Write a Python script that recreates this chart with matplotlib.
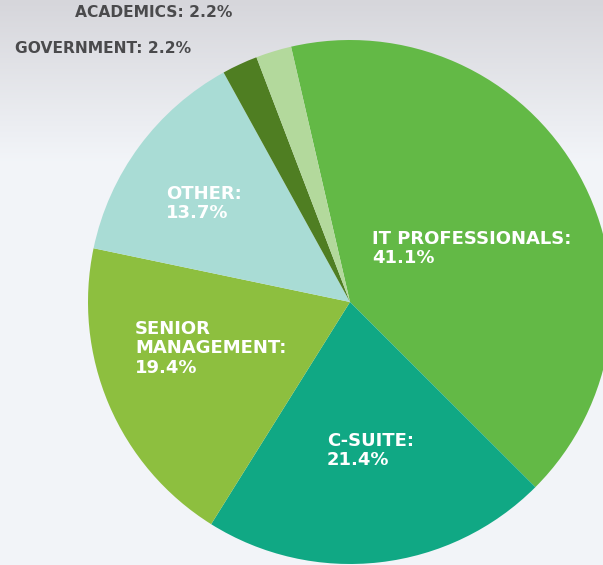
import numpy as np
import matplotlib.pyplot as plt

# slice data, clockwise from the top
categories = ["IT PROFESSIONALS", "C-SUITE", "SENIOR\nMANAGEMENT", "OTHER",
              "GOVERNMENT", "ACADEMICS"]
shares = [41.1, 21.4, 19.4, 13.7, 2.2, 2.2]
colors = ["#63b946", "#10a884", "#8dbf3f", "#a9dcd5", "#4f7e22", "#b3d99c"]

W, H = 603, 565

fig = plt.figure(figsize=(W / 100, H / 100), dpi=100)
ax = fig.add_axes([0, 0, 1, 1])

# soft grey background, darker towards the top
grad = np.linspace(0, 1, 200)[:, None]
top = np.array([0.84, 0.84, 0.86])
bottom = np.array([0.95, 0.96, 0.975])
mix = np.clip(grad * 3.5, 0, 1)
bg = top[None, None, :] * (1 - mix[..., None]) + bottom[None, None, :] * mix[..., None]
bg = np.repeat(bg, 2, axis=1)
ax.imshow(bg, extent=[0, W, 0, H], aspect="auto", zorder=0,
          interpolation="bilinear")

ax.pie(shares, colors=colors, center=(350, H - 302), radius=262,
       startangle=103, counterclock=False,
       wedgeprops=dict(linewidth=0), frame=True)
ax.set_xlim(0, W)
ax.set_ylim(0, H)
ax.set_aspect("equal")
ax.axis("off")

inside_font = dict(family="DejaVu Sans", fontweight="bold", fontsize=13,
                   va="top", ha="left", linespacing=1.1, color="white")
outside_font = dict(family="DejaVu Sans", fontweight="bold", fontsize=11.2,
                    va="top", ha="left", color="#4a4a4c")

inside = {
    "IT PROFESSIONALS": (372, 230),
    "C-SUITE": (327, 432),
    "SENIOR\nMANAGEMENT": (135, 320),
    "OTHER": (166, 185),
}
outside = {"ACADEMICS": (75, 5), "GOVERNMENT": (15, 41)}

for cat, val in zip(categories, shares):
    if cat in inside:
        x, y = inside[cat]
        ax.text(x, H - y, f"{cat}:\n{val}%", **inside_font)
    else:
        x, y = outside[cat]
        ax.text(x, H - y, f"{cat}: {val}%", **outside_font)

fig.savefig("out.png", dpi=100)
